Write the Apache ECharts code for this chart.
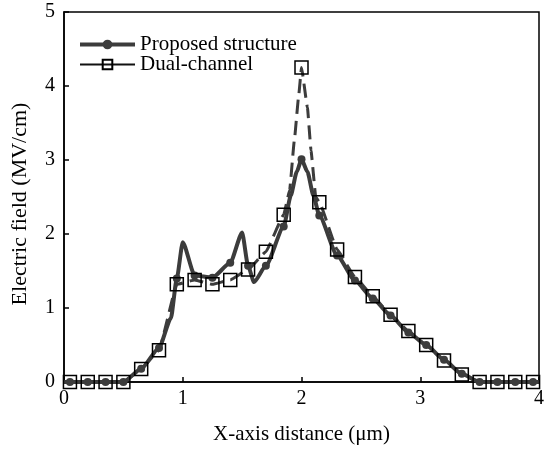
<!DOCTYPE html>
<html>
<head>
<meta charset="utf-8">
<script src="https://cdn.jsdelivr.net/npm/echarts@6/dist/echarts.min.js"></script>
<style>
  html, body { margin: 0; padding: 0; background: #fff; }
  #chart { width: 547px; height: 450px; }
</style>
</head>
<body>
<div id="chart"></div>
<script>
// Sample positions along the channel (µm) where markers are placed
const markX = [0.05, 0.2, 0.35, 0.5, 0.65, 0.8, 0.95, 1.1, 1.25, 1.4, 1.55, 1.7, 1.85, 2.0,
               2.15, 2.3, 2.45, 2.6, 2.75, 2.9, 3.05, 3.2, 3.35, 3.5, 3.65, 3.8, 3.95];

// Electric field (MV/cm) at the marker positions
const proposedY = [0, 0, 0, 0, 0.18, 0.46, 1.40, 1.44, 1.41, 1.61, 1.57, 1.57, 2.10, 3.01,
                   2.25, 1.71, 1.37, 1.13, 0.90, 0.67, 0.50, 0.30, 0.11, 0, 0, 0, 0];
const dualY     = [0, 0, 0, 0, 0.175, 0.43, 1.32, 1.38, 1.32, 1.38, 1.52, 1.76, 2.26, 4.25,
                   2.43, 1.79, 1.42, 1.16, 0.91, 0.69, 0.50, 0.29, 0.10, 0, 0, 0, 0];

// Additional curve vertices between markers (field peaks, dips and ends)
const proposedExtraX = [0, 0.9, 1.0, 1.5, 1.6, 1.91, 1.96, 2.05, 2.1, 4.0];
const proposedExtraY = [0, 0.86, 1.89, 2.02, 1.35, 2.52, 2.84, 2.84, 2.52, 0];
const dualExtraX = [0, 1.9, 1.94, 1.975, 2.05, 2.08, 2.12, 4.0];
const dualExtraY = [0, 2.59, 3.27, 3.85, 3.71, 3.13, 2.50, 0];

const xTicks = [0, 1, 2, 3, 4];
const yTicks = [0, 1, 2, 3, 4, 5];

const seriesNames = ['Proposed structure', 'Dual-channel'];

function buildData(mx, my, ex, ey) {
  const pts = [];
  mx.forEach((x, i) => pts.push({ value: [x, my[i]] }));
  ex.forEach((x, i) => pts.push({ value: [x, ey[i]], symbol: 'none' }));
  pts.sort((a, b) => a.value[0] - b.value[0]);
  return pts;
}

const FONT = '"Liberation Serif", "Times New Roman", serif';
const INK = '#3c3c3c';

const chart = echarts.init(document.getElementById('chart'), null, { renderer: 'canvas' });

chart.setOption({
  animation: false,
  backgroundColor: '#fff',
  grid: {
    left: 64, right: 4, top: 12, bottom: 66,
    show: true, borderColor: '#000', borderWidth: 1.5
  },
  legend: {
    orient: 'vertical',
    left: 73, top: 29,
    itemWidth: 55, itemHeight: 12, itemGap: -1,
    textStyle: { fontFamily: FONT, fontSize: 21, lineHeight: 20, color: '#000' },
    data: [
      { name: seriesNames[0], lineStyle: { width: 4, color: INK } },
      { name: seriesNames[1], lineStyle: { type: 'solid', width: 2, color: '#111' } }
    ]
  },
  xAxis: {
    type: 'value', min: xTicks[0], max: xTicks[xTicks.length - 1], interval: 1,
    name: 'X-axis distance (μm)', nameLocation: 'middle', nameGap: 42,
    nameTextStyle: { fontFamily: FONT, fontSize: 21, color: '#000' },
    axisLine: { lineStyle: { color: '#000', width: 1.5 } },
    axisTick: { inside: true, length: 5, lineStyle: { color: '#000', width: 1.5 } },
    axisLabel: { fontFamily: FONT, fontSize: 20, color: '#000', margin: 7 },
    splitLine: { show: false }
  },
  yAxis: {
    type: 'value', min: yTicks[0], max: yTicks[yTicks.length - 1], interval: 1,
    name: 'Electric field (MV/cm)', nameLocation: 'middle', nameGap: 33,
    nameTextStyle: { fontFamily: FONT, fontSize: 22, color: '#000', padding: [0, 14, 0, 0] },
    axisLine: { lineStyle: { color: '#000', width: 1.5 } },
    axisTick: { inside: true, length: 5, lineStyle: { color: '#000', width: 1.5 } },
    axisLabel: { fontFamily: FONT, fontSize: 20, color: '#000', margin: 9 },
    splitLine: { show: false }
  },
  series: [
    {
      name: seriesNames[0],
      type: 'line',
      data: buildData(markX, proposedY, proposedExtraX, proposedExtraY),
      smooth: 0.2, smoothMonotone: 'x',
      symbol: 'circle', symbolSize: 8,
      itemStyle: { color: INK },
      lineStyle: { color: INK, width: 4 },
      z: 2
    },
    {
      name: seriesNames[1],
      type: 'line',
      data: buildData(markX, dualY, dualExtraX, dualExtraY),
      smooth: 0.1, smoothMonotone: 'x',
      symbol: 'rect', symbolSize: 13,
      itemStyle: { color: 'rgba(255,255,255,0)', borderColor: '#000', borderWidth: 1.5 },
      lineStyle: { color: INK, width: 3, type: [14, 7] },
      z: 3
    }
  ]
});
</script>
</body>
</html>
